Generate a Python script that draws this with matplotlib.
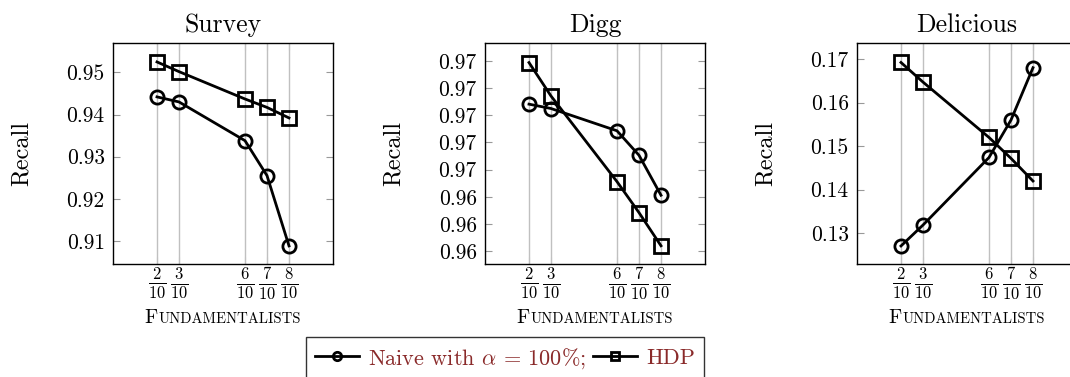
import matplotlib
matplotlib.use("Agg")
import matplotlib.pyplot as plt
from matplotlib.lines import Line2D
from matplotlib.offsetbox import TextArea, HPacker, AnchoredOffsetbox

plt.rcParams['font.family'] = 'cmr10'
plt.rcParams['mathtext.fontset'] = 'cm'
plt.rcParams['axes.unicode_minus'] = False

# fraction of fundamentalists
x = [0.2, 0.3, 0.6, 0.7, 0.8]
x_labels = [r'$\frac{2}{10}$', r'$\frac{3}{10}$', r'$\frac{6}{10}$',
            r'$\frac{7}{10}$', r'$\frac{8}{10}$']

titles = ['Survey', 'Digg', 'Delicious']

# recall, naive with alpha = 100%
naive_survey = [0.9442, 0.9430, 0.9338, 0.9255, 0.9088]
naive_digg = [0.96741, 0.96725, 0.96643, 0.96553, 0.96406]
naive_delicious = [0.1271, 0.1319, 0.1474, 0.1560, 0.1680]

# recall, HDP
hdp_survey = [0.9525, 0.9502, 0.9437, 0.9417, 0.9392]
hdp_digg = [0.96894, 0.96771, 0.96456, 0.96342, 0.96220]
hdp_delicious = [0.1692, 0.1647, 0.1520, 0.1472, 0.1420]

# y ticks as printed (pgfplots rounds to two decimals)
yt_survey = [0.91, 0.92, 0.93, 0.94, 0.95]
yl_survey = ['0.91', '0.92', '0.93', '0.94', '0.95']
yt_digg = [0.962, 0.963, 0.964, 0.965, 0.966, 0.967, 0.968, 0.969]
yl_digg = ['0.96', '0.96', '0.96', '0.97', '0.97', '0.97', '0.97', '0.97']
yt_delicious = [0.13, 0.14, 0.15, 0.16, 0.17]
yl_delicious = ['0.13', '0.14', '0.15', '0.16', '0.17']

naive = [naive_survey, naive_digg, naive_delicious]
hdp = [hdp_survey, hdp_digg, hdp_delicious]
yticks = [yt_survey, yt_digg, yt_delicious]
ylabels = [yl_survey, yl_digg, yl_delicious]
ylims = [(0.9045, 0.9570), (0.96153, 0.96966), (0.12296, 0.17367)]

fig = plt.figure(figsize=(10.70, 3.77), dpi=100)
lefts = [113, 485, 857]
W, H = 1070.0, 377.0

for i in range(3):
    ax = fig.add_axes([lefts[i] / W, 1 - 264 / H, 220 / W, 221 / H])
    ax.plot(x, naive[i], color='black', lw=2, marker='o', ms=9.5,
            mfc='none', mew=2, zorder=3)
    ax.plot(x, hdp[i], color='black', lw=2, marker='s', ms=9.5,
            mfc='none', mew=2, zorder=3)
    ax.set_xlim(0, 1)
    ax.set_ylim(*ylims[i])
    ax.set_xticks(x)
    ax.set_xticklabels(x_labels, fontsize=17)
    ax.set_yticks(yticks[i])
    ax.set_yticklabels(ylabels[i], fontsize=15.5)
    ax.grid(axis='x', color='#c0c0c0', lw=1)
    ax.tick_params(axis='y', direction='in', right=True, length=5,
                   color='#999999', pad=6)
    ax.tick_params(axis='x', direction='in', top=True, length=5,
                   color='#c0c0c0', pad=1)
    for s in ax.spines.values():
        s.set_linewidth(1)
    ax.set_title(titles[i], fontsize=18.5, pad=8)
    ax.set_ylabel('Recall', fontsize=17.5, labelpad=24)

    # small caps x label
    parts = HPacker(children=[TextArea('F', textprops=dict(fontsize=14.5)),
                              TextArea('UNDAMENTALISTS', textprops=dict(fontsize=10.6))],
                    align='baseline', pad=0, sep=0.5)
    ab = AnchoredOffsetbox(loc='center', child=parts, bbox_to_anchor=(0.5, -0.245),
                           bbox_transform=ax.transAxes, frameon=False, pad=0, borderpad=0)
    ax.add_artist(ab)

handles = [Line2D([], [], color='black', lw=2, marker='o', ms=6, mfc='none', mew=2),
           Line2D([], [], color='black', lw=2, marker='s', ms=6, mfc='none', mew=2)]
leg = fig.legend(handles, [r'Naive with $\alpha$ = 100%;', 'HDP'], ncol=2,
                 loc='upper left', bbox_to_anchor=(306 / W, 1 - 337 / H),
                 fontsize=16, frameon=True, fancybox=False, edgecolor='black',
                 borderaxespad=0, handlelength=2.0, handletextpad=0.4,
                 columnspacing=0.3, borderpad=0.4, labelcolor='#8a2a2a')
leg.get_frame().set_linewidth(1)

fig.savefig('out.png', dpi=100)
